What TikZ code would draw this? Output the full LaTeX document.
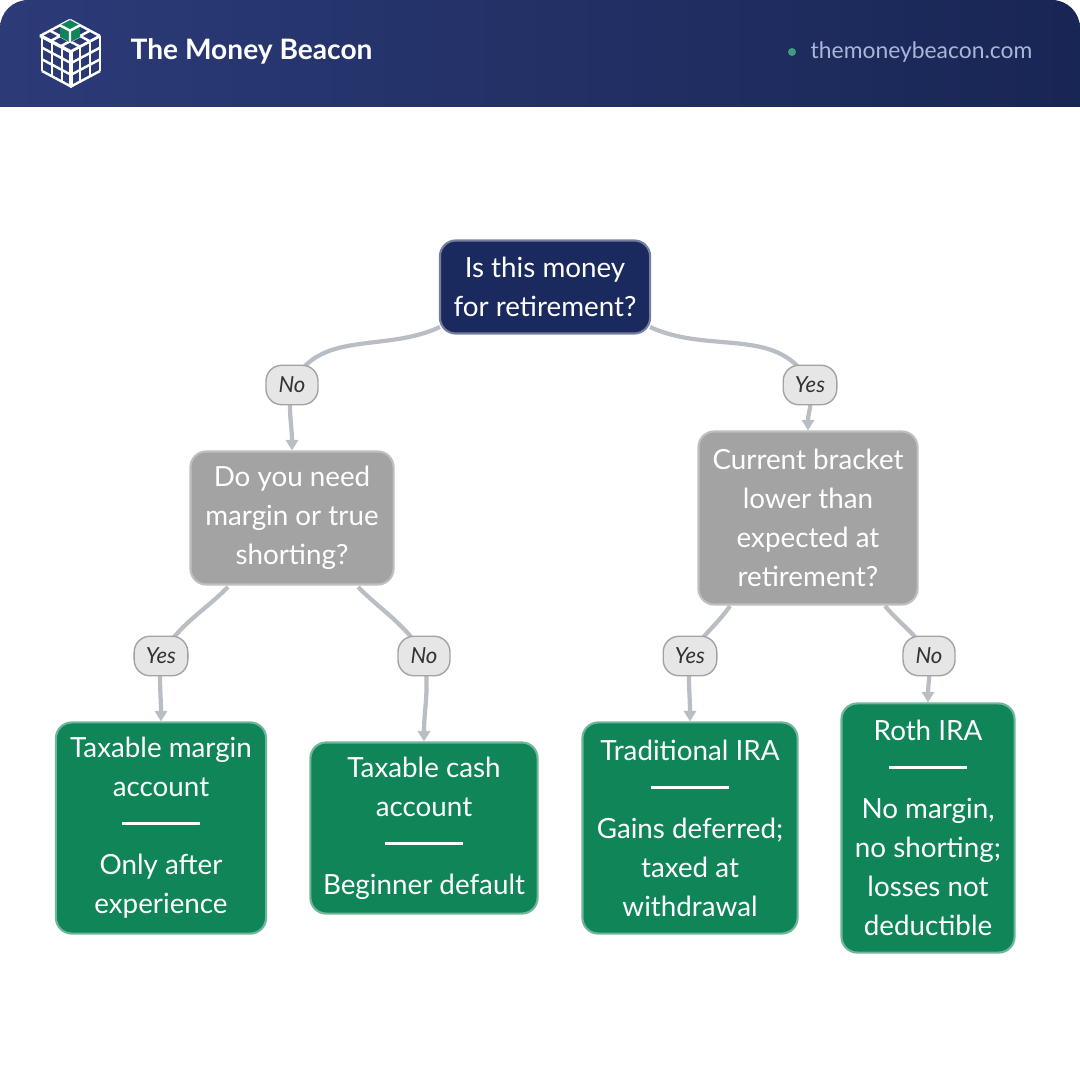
\documentclass[tikz,border=0pt]{standalone}
\usepackage{fontspec}
\setmainfont{Lato}
\usetikzlibrary{arrows.meta,calc}
\definecolor{navy}{HTML}{1B2A5E}
\definecolor{navylight}{HTML}{2C3B78}
\definecolor{qgray}{HTML}{A3A3A3}
\definecolor{leafgreen}{HTML}{0F8558}
\definecolor{edgegray}{HTML}{B9BDC4}
\definecolor{pillgray}{HTML}{E6E6E6}
\definecolor{urlblue}{HTML}{A9B6D9}
\pgfdeclarelayer{bg}
\pgfsetlayers{bg,main}
\tikzset{
  box/.style={rounded corners=4.5pt, text=white, align=center, font=\fontsize{7.9}{11.1}\selectfont, inner sep=0pt},
  root/.style={box, fill=navy, draw=navy!60!white, line width=0.6pt},
  quest/.style={box, fill=qgray, draw=qgray!70!white, line width=0.6pt},
  leaf/.style={box, fill=leafgreen, draw=leafgreen!60!white, line width=0.6pt},
  pill/.style={rounded corners=4.5pt, fill=pillgray, draw=qgray, line width=0.4pt, minimum width=0.52cm, minimum height=0.32cm, font=\fontsize{6.3}{7}\selectfont\itshape, text=black!80},
  edge/.style={draw=edgegray, line width=1.2pt},
  arr/.style={edge, -{Triangle[length=3pt,width=3.5pt]}},
}
\newcommand{\divider}{\\\rule[3pt]{22pt}{0.8pt}\\}
\begin{document}
\begin{tikzpicture}[x=0.01cm, y=-0.01cm]
        \useasboundingbox (0,0) rectangle (1080,1080);
        % header
        \shade[left color=navylight, right color=navy!90!black, rounded corners=8pt] (0,107) -- (0,0) -- (1080,0) [sharp corners] -- (1080,107) -- cycle;
        \begin{scope}[white, line width=0.7pt, line join=round]
                \coordinate (T) at (70,20);
                \foreach \i in {0,1,2,3} {
                        \draw ($(T)+(\i*10,\i*5.33)$) -- ++(-30,16);
                        \draw ($(T)+(-\i*10,\i*5.33)$) -- ++(30,16);
                        \draw ($(42,36)+(\i*10,\i*5.33)$) -- ++(0,35);
                        \draw ($(42,36)+(0,\i*11.67)$) -- ++(30,16);
                        \draw ($(100,36)+(-\i*10,\i*5.33)$) -- ++(0,35);
                        \draw ($(100,36)+(0,\i*11.67)$) -- ++(-30,16);
                }
                \fill[leafgreen] (T) -- ++(10,5.33) -- ++(0,11.67) -- ++(-10,5.33) -- ++(-10,-5.33) -- ++(0,-11.67) -- cycle;
                \draw (T) ++(10,5.33) -- ++(-10,5.33) -- ++(-10,-5.33) ++(10,5.33) -- ++(0,11.67);
        \end{scope}
        \node (title) [anchor=west, inner sep=0pt, text=white, font=\fontsize{8}{9}\selectfont\bfseries] at (130,51) {The Money Beacon};
        \fill[leafgreen!80!white] (792,52) circle (4);
        \node (url) [anchor=west, inner sep=0pt, text=urlblue, font=\fontsize{6.5}{7}\selectfont] at (810,52) {themoneybeacon.com};
        % decision nodes
        \node (root) [root, minimum width=2.1cm, minimum height=0.93cm] at (545,287) {Is this money\\for retirement?};
        \node (qmargin) [quest, minimum width=2.03cm, minimum height=1.33cm] at (292,518) {Do you need\\margin or true\\shorting?};
        \node (qbracket) [quest, minimum width=2.19cm, minimum height=1.73cm] at (808,518) {Current bracket\\lower than\\expected at\\retirement?};
        % leaves
        \node (margin) [leaf, minimum width=2.1cm, minimum height=2.11cm] at (161,828) {Taxable margin\\account\divider Only after\\experience};
        \node (cash) [leaf, minimum width=2.27cm, minimum height=1.71cm] at (424,828) {Taxable cash\\account\divider Beginner default};
        \node (trad) [leaf, minimum width=2.15cm, minimum height=2.11cm] at (690,828) {Traditional IRA\divider Gains deferred;\\taxed at\\withdrawal};
        \node (roth) [leaf, minimum width=1.73cm, minimum height=2.49cm] at (928,828) {Roth IRA\divider No margin,\\no shorting;\\losses not\\deductible};
        % answers
        \node (ano) [pill] at (292,385) {No};
        \node (ayes) [pill] at (810,385) {Yes};
        \node (myes) [pill] at (161,656) {Yes};
        \node (mno) [pill] at (424,656) {No};
        \node (byes) [pill] at (690,656) {Yes};
        \node (bno) [pill] at (929,656) {No};
        \begin{pgfonlayer}{bg}
                \draw[edge] (440,327) to[out=205,in=65] (ano.center);
                \draw[arr] (ano.center) to[out=-100,in=90] (qmargin.north);
                \draw[edge] (650,327) to[out=-25,in=115] (ayes.center);
                \draw[arr] (ayes.center) to[out=-80,in=90] (qbracket.north);
                \draw[edge] (228,587) to[out=-135,in=60] (myes.center);
                \draw[arr] (myes.center) to[out=-95,in=90] (margin.north);
                \draw[edge] (358,587) to[out=-45,in=120] (mno.center);
                \draw[arr] (mno.center) to[out=-80,in=90] (cash.north);
                \draw[edge] (730,606) to[out=-125,in=60] (byes.center);
                \draw[arr] (byes.center) to[out=-95,in=90] (trad.north);
                \draw[edge] (885,606) to[out=-50,in=120] (bno.center);
                \draw[arr] (bno.center) to[out=-85,in=90] (roth.north);
        \end{pgfonlayer}
\end{tikzpicture}
\end{document}
